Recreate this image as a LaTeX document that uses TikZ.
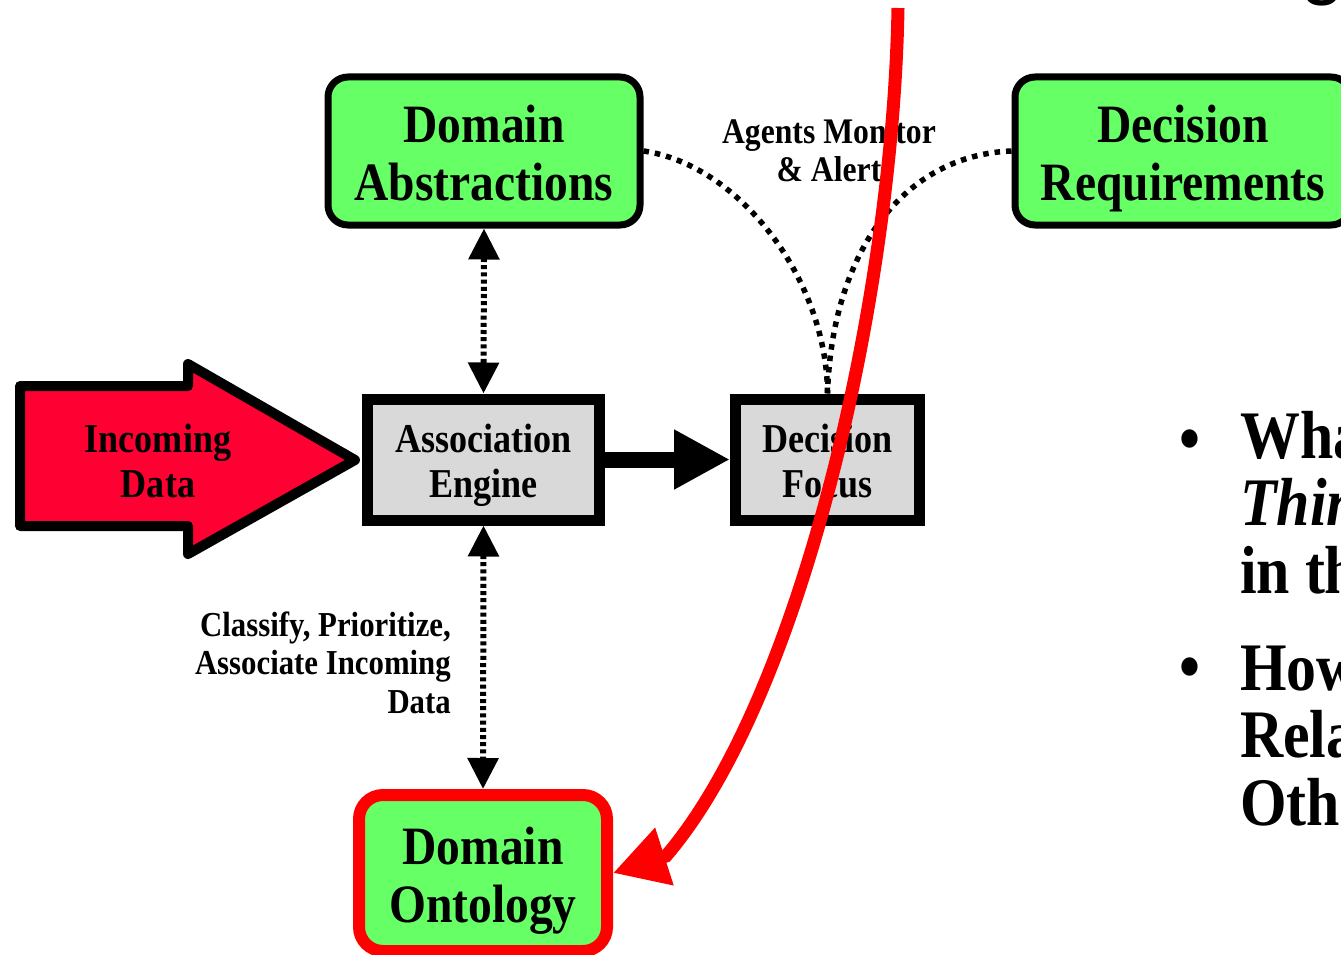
\documentclass[tikz,border=0pt]{standalone}
\usepackage{fontspec}
\setmainfont{Liberation Serif}[FakeStretch=0.88]
\newfontfamily\titlesans{Liberation Sans}
\usetikzlibrary{arrows.meta}
\definecolor{boxgreen}{RGB}{102,255,102}
\definecolor{boxgray}{RGB}{217,217,217}
\definecolor{arrowred}{RGB}{255,0,51}
\definecolor{purered}{RGB}{255,0,0}
\newcommand\fsz[2]{\fontsize{#1}{#2}\selectfont}
\begin{document}
\begin{tikzpicture}[x=1pt,y=-1pt,
  greenbox/.style={draw=black, line width=7pt, fill=boxgreen, rounded corners=20pt,
    inner sep=0pt, align=center, text height=98pt, text depth=0pt,
    font=\fsz{54}{58}\bfseries},
  graybox/.style={draw=black, line width=11pt, fill=boxgray, inner sep=0pt,
    align=center, text height=75pt, text depth=0pt, font=\fsz{41}{45}\bfseries},
  incarrow/.style={draw=black, line width=10pt, fill=arrowred, line join=round},
  dotv/.style={line width=6pt, dash pattern=on 4pt off 3.2pt},
  dotc/.style={line width=5.5pt, dash pattern=on 5.5pt off 6pt},
  dtip/.style={{Triangle[width=30pt,length=31pt]}-{Triangle[width=30pt,length=31pt]}},
  redc/.style={draw=purered, line width=13pt, -{Triangle[width=57pt,length=54pt]}},
  lbl/.style={inner sep=0pt, font=\fsz{35}{38.5}\bfseries},
  bigq/.style={inner sep=0pt, anchor=base west, align=left, font=\fsz{68}{67.5}\bfseries}
]
\useasboundingbox (0,0) rectangle (1341,955);
\clip (0,0) rectangle (1341,955);

% boxes
\node[greenbox, minimum width=312pt, minimum height=148pt] (abs) at (484,151) {Domain\\Abstractions};
\node[greenbox, minimum width=336pt, minimum height=148pt] (req) at (1183,151) {Decision\\Requirements};
\node[graybox, minimum width=232pt, minimum height=121pt] (assoc) at (483.5,459.5) {Association\\Engine};
\node[graybox, minimum width=184pt, minimum height=121pt] (focus) at (827.5,459.5) {Decision\\Focus};
\node[greenbox, draw=purered, line width=12pt, rounded corners=24pt,
      minimum width=248pt, minimum height=156pt] (ont) at (483,873) {Domain\\Ontology};

% incoming data block arrow
\draw[incarrow] (20,386) -- (188,386) -- (188,364) -- (355,460) -- (188,554) -- (188,526) -- (20,526) -- cycle;
\node[inner sep=0pt, align=center, anchor=base, font=\fsz{41}{45}\bfseries]
  (incoming) at (158,497) {Incoming\\Data};

% connectors
\draw[dotv, dtip] (abs.south) -- (assoc.north);
\draw[dotv, dtip] (assoc.south) -- (ont.north);
\draw[line width=16pt, -{Triangle[width=56pt,length=56pt]}] (assoc.east) -- (focus.west);
\draw[dotc] (abs.east) .. controls (740,165) and (827,280) .. (focus.north);
\draw[dotc] (req.west) .. controls (905,155) and (832,250) .. (focus.north);

% labels
\node[lbl, align=center, anchor=base, font=\fsz{36}{38}\bfseries] (agents) at (829,181) {Agents Monitor\\\& Alert};
\node[lbl, align=right, anchor=base east] (classify) at (451,713) {Classify, Prioritize,\\Associate Incoming\\Data};

% right-hand bullets
\node[inner sep=0pt, font=\fsz{68}{68}\bfseries] (b1) at (1190,446) {•};
\node[bigq] (q1) at (1240,593) {What\\\textit{Things}\\in the};
\node[inner sep=0pt, font=\fsz{68}{68}\bfseries] (b2) at (1190,674) {•};
\node[bigq] (q2) at (1240,825) {How\\Related\\Others};

% cut-off title glyph
\node[inner sep=0pt, anchor=base west, font=\titlesans\fsz{80}{80}] (ttl) at (1300,-10) {g};

% red overlay arrow
\coordinate (rtop) at (898,8);
\coordinate (rbend) at (666,856);
\draw[redc] (rtop) .. controls (893,300) and (800,700) .. (rbend) -- (ont.east);
\end{tikzpicture}
\end{document}
